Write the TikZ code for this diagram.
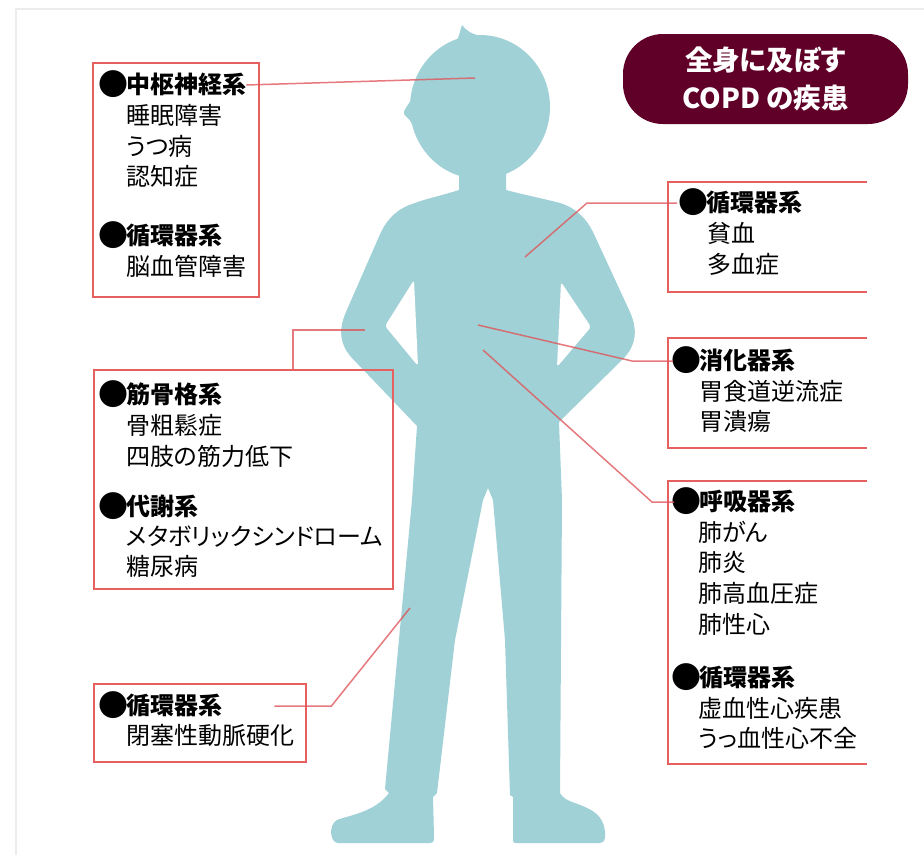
\documentclass[tikz,border=0pt]{standalone}
\usepackage{fontspec}
\setmainfont{Noto Sans CJK JP}[RawFeature=+palt]
\usepackage{tikz}
\definecolor{skin}{RGB}{160,209,214}
\definecolor{boxred}{RGB}{230,96,96}
\definecolor{leadred}{RGB}{222,88,92}
\definecolor{wine}{RGB}{96,0,40}
\newcommand\blt{\makebox[25pt][c]{\raisebox{-2pt}{\fontsize{30}{30}\selectfont ●}}}
\tikzset{sysbox/.style={draw=boxred,line width=2pt,inner sep=0,anchor=north west},
  openbox/.style={inner sep=0,anchor=north west},
  grp/.style={anchor=west,inner sep=0,text height=18.5pt,text depth=1pt,font=\fontsize{24}{30}\selectfont\bfseries},
  item/.style={anchor=west,inner sep=0,text height=18.5pt,text depth=1pt,font=\fontsize{24}{30}\selectfont},
  lead/.style={draw=leadred,line width=1.5pt,opacity=.8},
  pill/.style={fill=wine,rounded corners=40pt,text=white,align=center,inner sep=0,
    minimum width=285pt,minimum height=90pt,font=\fontsize{27.5}{38}\selectfont\bfseries}}

\begin{document}
\begin{tikzpicture}[x=1pt,y=-1pt]
        \useasboundingbox (0,0) rectangle (924,855);
        \draw[gray!15,line width=1.5pt] (924,9) -- (16,9) -- (16,855);

        % silhouette
        \fill[skin] (480,107) ellipse [x radius=70,y radius=72];
        \fill[skin] (412,98) .. controls (408,106) and (403,110) .. (404,114) .. controls (406,117) and (410,119) .. (412,124) -- cycle;
        \fill[skin] (456,42) .. controls (460,35) and (460,30) .. (462,25) .. controls (466,30) and (470,34) .. (482,36) -- cycle;
        \fill[skin] (459,170) -- (459,190)
          .. controls (440,196) and (425,199) .. (415,203)
          .. controls (398,208) and (388,218) .. (381,232)
          -- (346,312)
          .. controls (338,330) and (340,345) .. (352,358)
          -- (417,426) -- (412,500) -- (385,789) -- (389,793)
          .. controls (375,812) and (350,815) .. (337,820)
          .. controls (328,825) and (330,843) .. (338,843)
          -- (430,843) .. controls (434,843) and (434,840) .. (434,836)
          -- (433,797) -- (437,793) -- (455,640) -- (483,500) -- (488,488)
          -- (493,500) -- (505,640) -- (510,795) -- (513,797) -- (513,838)
          .. controls (513,843) .. (518,843)
          -- (600,843) .. controls (606,843) and (606,835) .. (604,826)
          .. controls (600,812) and (588,808) .. (575,803)
          .. controls (566,800) and (562,797) .. (560,793)
          -- (562,500) -- (559,422) -- (624,358)
          .. controls (636,345) and (638,330) .. (630,312)
          -- (593,232)
          .. controls (586,218) and (576,208) .. (560,203)
          .. controls (545,199) and (525,195) .. (506,190)
          -- (506,170) -- cycle;
        \fill[white,rounded corners=3pt] (414,280) -- (385,326) -- (418,366) -- cycle;
        \fill[white,rounded corners=3pt] (561,282) -- (591,327) -- (557,367) -- cycle;

        \node[pill] (title) at (765.5,79) {全身に及ぼす\\COPD の疾患};

        % left column
        \node[sysbox,minimum width=166pt,minimum height=234pt] (b1) at (92,62) {};
        \node[grp] (cns) at (101,85) {\blt 中枢神経系};
        \foreach \t [count=\i] in {睡眠障害,うつ病,認知症}
          \node[item] (cns-\i) at (126,85+30.7*\i) {\t};
        \node[grp] (cv2) at (101,236) {\blt 循環器系};
        \node[item] (cv2-1) at (126,267) {脳血管障害};

        \node[sysbox,minimum width=299pt,minimum height=219pt] (b2) at (93,369) {};
        \node[grp] (msk) at (101,395) {\blt 筋骨格系};
        \foreach \t [count=\i] in {骨粗鬆症,四肢の筋力低下}
          \node[item] (msk-\i) at (126,395+30.7*\i) {\t};
        \node[grp] (met) at (101,507) {\blt 代謝系};
        \foreach \t [count=\i] in {メタボリックシンドローム,糖尿病}
          \node[item] (met-\i) at (126,507+30*\i) {\t};

        \node[sysbox,minimum width=212pt,minimum height=78pt] (b3) at (93,683) {};
        \node[grp] (cv3) at (101,706) {\blt 循環器系};
        \node[item] (cv3-1) at (126,736) {閉塞性動脈硬化};

        % right column, boxes run off the edge
        \node[openbox,minimum width=199pt,minimum height=110pt] (rA) at (668,182) {};
        \node[openbox,minimum width=199pt,minimum height=110pt] (rB) at (668,338) {};
        \node[openbox,minimum width=199pt,minimum height=283pt] (rC) at (668,481) {};
        \foreach \b in {rA,rB,rC}
          \draw[boxred,line width=2pt] (\b.north east) -| (\b.south west) -- (\b.south east);

        \node[grp] (cv1) at (681,203) {\blt 循環器系};
        \foreach \t [count=\i] in {貧血,多血症}
          \node[item] (cv1-\i) at (707,203+31*\i) {\t};
        \node[grp] (gi) at (674,361) {\blt 消化器系};
        \foreach \t [count=\i] in {胃食道逆流症,胃潰瘍}
          \node[item] (gi-\i) at (699,361+30.5*\i) {\t};
        \node[grp] (resp) at (674,502) {\blt 呼吸器系};
        \foreach \t [count=\i] in {肺がん,肺炎,肺高血圧症,肺性心}
          \node[item] (resp-\i) at (698,502+30.6*\i) {\t};
        \node[grp] (cv4) at (674,678) {\blt 循環器系};
        \foreach \t [count=\i] in {虚血性心疾患,うっ血性心不全}
          \node[item] (cv4-\i) at (698,678+30.5*\i) {\t};

        % leader lines
        \coordinate (brain) at (475,78);
        \coordinate (arm) at (365,330);
        \coordinate (shin) at (410,608);
        \coordinate (chest) at (525,257);
        \coordinate (stomach) at (478,325);
        \coordinate (lung) at (483,350);
        \draw[lead] (cns.east) -- (brain);
        \draw[lead] (b2.north west) ++(200,0) |- (arm);
        \draw[lead] (cv3.east) ++(52,0) -- ++(57,0) -- (shin);
        \draw[lead] (cv1.west) ++(-4,0) -- ++(-90,0) -- (chest);
        \draw[lead] (gi.west) ++(-1,0) -- ++(-41,0) -- (stomach);
        \draw[lead] (resp.west) -- ++(-22,0) -- (lung);
\end{tikzpicture}
\end{document}
